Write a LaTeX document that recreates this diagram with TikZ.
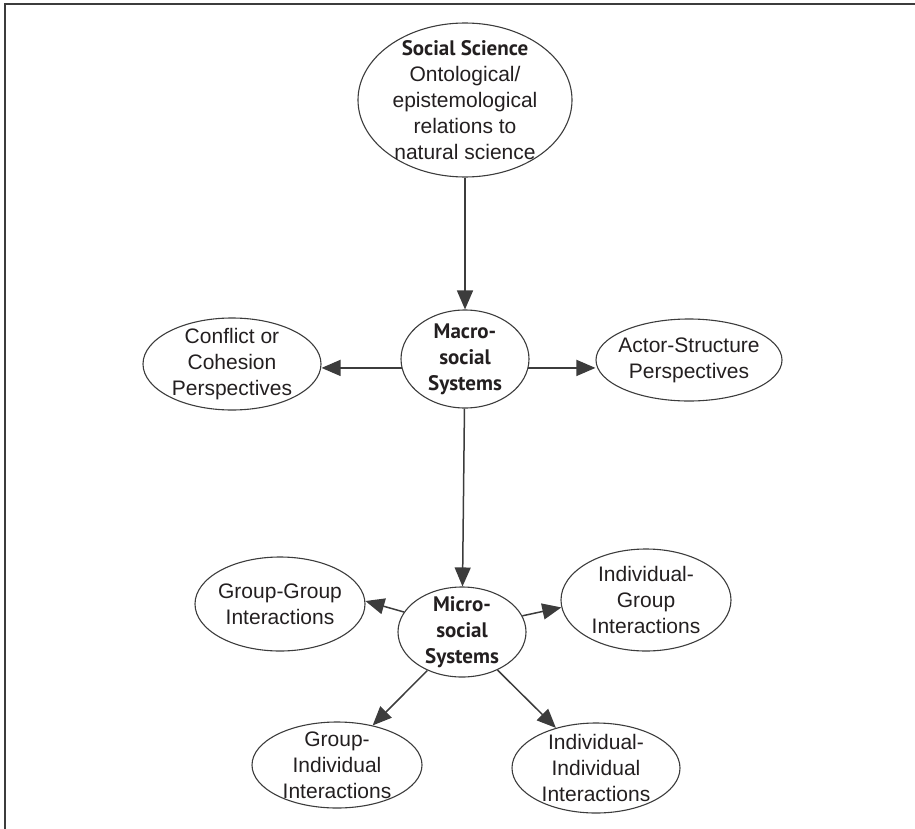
\documentclass[tikz,border=0pt]{standalone}
\usepackage{fontspec}
\setmainfont{Liberation Sans}
\newfontfamily\headfont{PT Sans}
\usetikzlibrary{shapes.geometric,arrows.meta}

\definecolor{linegray}{HTML}{3C3C3C}
\definecolor{inkgray}{HTML}{231F20}

\tikzset{
  bubble/.style={ellipse,draw=linegray,line width=0.55pt,inner sep=0pt},
  bubbletext/.style={align=center,text=inkgray,font=\fontsize{10.5}{13}\selectfont,inner sep=0pt},
  arr/.style={draw=linegray,line width=0.75pt,-{Triangle[length=9.5pt,width=8pt]}},
}

\newcommand{\bubble}[5]{%
 \node[bubble,minimum width={#3pt},minimum height={#4pt}] ({#1}) at ({#2}) {};%
 \node[bubbletext] ({#1t}) at ({#1}) {#5};%
}
\newcommand{\head}[1]{{\headfont\bfseries #1}}

\begin{document}
\begin{tikzpicture}[x=0.5pt,y=-0.5pt]
  \useasboundingbox (0,0) rectangle (915,829);
  \draw[linegray,line width=1pt] (5,829) -- (5,4) -- (915,4);
  \bubble{top}{465,100}{107}{77}{\head{Social Science}\\Ontological/\\epistemological\\relations to\\natural science};
  \bubble{macro}{465,359}{64}{49}{\head{Macro-}\\\head{social}\\\head{Systems}};
  \bubble{conf}{232,364}{89}{46}{Conflict or\\Cohesion\\Perspectives};
  \bubble{actor}{689,360}{93}{41}{Actor-Structure\\Perspectives};
  \bubble{micro}{462,632}{64}{45}{\head{Micro-}\\\head{social}\\\head{Systems}};
  \bubble{gg}{280,604}{85}{47}{Group-Group\\Interactions};
  \bubble{ig}{646,600}{85}{51}{Individual-\\Group\\Interactions};
  \bubble{gi}{337,765}{85}{43}{Group-\\Individual\\Interactions};
  \bubble{ii}{596,768}{84}{45}{Individual-\\Individual\\Interactions};
  \path (top) edge[arr] (macro);
  \path (macro.188) edge[arr] (conf.east |- macro.188);
  \path (macro.352) edge[arr] (actor.west |- macro.352);
  \path (macro) edge[arr] (micro);
  \path (micro.161) edge[arr] (gg.2);
  \path (micro.15) edge[arr] (ig.185);
  \path (micro.228) edge[arr] (gi.48);
  \path (micro.313) edge[arr] (ii.135);
\end{tikzpicture}
\end{document}
